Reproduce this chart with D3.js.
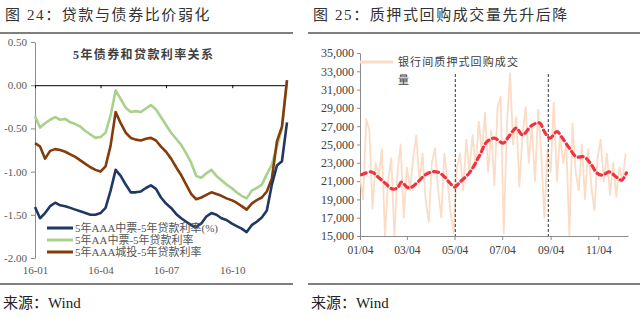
<!DOCTYPE html>
<html>
<head>
<meta charset="utf-8">
<style>
body { margin: 0; background: #fff; }
svg text { font-family: "Liberation Serif", "Noto Sans CJK SC", serif; }
.axis path, .axis line { stroke: #8c8c8c; }
.axis text { fill: #404040; font-family: "Liberation Serif", serif; }
</style>
</head>
<body>
<script src="https://d3js.org/d3.v7.min.js"></script>
<script>

// ---- left chart: 5y bond yield minus 5y loan rate (weekly) ----
var bondDates = ["2016-01-01","2016-01-08","2016-01-15","2016-01-22","2016-01-29","2016-02-05","2016-02-12",
  "2016-02-19","2016-02-26","2016-03-04","2016-03-11","2016-03-18","2016-03-25","2016-04-01","2016-04-08",
  "2016-04-15","2016-04-22","2016-04-29","2016-05-06","2016-05-13","2016-05-20","2016-05-27","2016-06-03",
  "2016-06-10","2016-06-17","2016-06-24","2016-07-01","2016-07-08","2016-07-15","2016-07-22","2016-07-29",
  "2016-08-05","2016-08-12","2016-08-19","2016-08-26","2016-09-02","2016-09-09","2016-09-16","2016-09-23",
  "2016-09-30","2016-10-07","2016-10-14","2016-10-21","2016-10-28","2016-11-04","2016-11-11","2016-11-18",
  "2016-11-25","2016-12-02","2016-12-09","2016-12-16"];
var aaaMtn = [-1.41,-1.54,-1.48,-1.40,-1.36,-1.39,-1.40,-1.42,-1.44,-1.46,-1.48,-1.50,-1.50,-1.48,-1.42,
  -1.22,-0.98,-1.05,-1.15,-1.24,-1.24,-1.23,-1.19,-1.16,-1.20,-1.30,-1.37,-1.42,-1.49,-1.54,-1.58,
  -1.62,-1.64,-1.60,-1.52,-1.48,-1.50,-1.54,-1.56,-1.60,-1.63,-1.66,-1.70,-1.62,-1.58,-1.53,-1.45,
  -1.15,-0.93,-0.88,-0.43];
var aaMtn = [-0.36,-0.49,-0.44,-0.40,-0.37,-0.40,-0.39,-0.43,-0.45,-0.48,-0.53,-0.57,-0.61,-0.60,-0.55,
  -0.35,-0.06,-0.16,-0.26,-0.31,-0.30,-0.31,-0.27,-0.23,-0.28,-0.37,-0.46,-0.55,-0.62,-0.69,-0.79,
  -0.90,-1.05,-1.07,-1.02,-0.98,-1.05,-1.10,-1.15,-1.19,-1.24,-1.28,-1.31,-1.22,-1.19,-1.15,-1.03,
  -0.92,-0.71,-0.50,0.05];
var aaaLgfv = [-0.67,-0.71,-0.85,-0.76,-0.74,-0.75,-0.77,-0.80,-0.83,-0.87,-0.91,-0.95,-0.98,-1.00,-0.94,
  -0.70,-0.31,-0.44,-0.55,-0.61,-0.63,-0.64,-0.62,-0.61,-0.64,-0.71,-0.77,-0.85,-0.95,-1.04,-1.15,
  -1.26,-1.32,-1.30,-1.27,-1.24,-1.26,-1.28,-1.31,-1.33,-1.36,-1.40,-1.44,-1.37,-1.33,-1.30,-1.23,
  -1.08,-0.65,-0.48,0.06];
var bondNames = ["5年AAA中票-5年贷款利率(%)", "5年AA中票-5年贷款利率", "5年AAA城投-5年贷款利率"];
var bondColors = ["#203864", "#a9d18e", "#843c0c"];
var bondYTicks = [0.5, 0, -0.5, -1, -1.5, -2];
var bondXTicks = ["2016-01-01", "2016-04-01", "2016-07-01", "2016-10-01"];

// ---- right chart: interbank pledged repo volume ----
var repoStart = "2016-01-04";   // one value every 4 days
var repoStepDays = 4;
var repoVolume = [21500,19000,27800,26500,18000,23000,21500,24500,15000,21000,23500,15000,22000,25000,
  17000,22500,20000,23500,26000,21000,24000,19000,16500,23000,24600,20000,17000,24000,21000,17500,
  15400,22500,24000,20000,25500,22000,26000,22500,27500,24000,28500,22000,26500,20500,29000,30200,
  15300,27000,32800,25000,28000,20400,26000,29100,23000,27000,21000,28800,24000,17000,24500,22000,
  29600,21000,26000,23000,25000,15100,27300,22000,20000,25000,19000,24500,20500,17800,23500,25500,
  21000,24000,19500,23000,19300,22500,21000,24000];
var maDates = ["2016-01-06","2016-01-19","2016-01-27","2016-02-05","2016-02-14","2016-02-21","2016-02-26",
  "2016-03-04","2016-03-08","2016-03-18","2016-03-27","2016-04-05","2016-04-12","2016-04-19","2016-04-28",
  "2016-05-04","2016-05-11","2016-05-23","2016-06-05","2016-06-14","2016-06-24","2016-07-05","2016-07-14",
  "2016-07-22","2016-07-30","2016-08-11","2016-08-21","2016-08-27","2016-09-03","2016-09-12","2016-09-19",
  "2016-09-28","2016-10-07","2016-10-17","2016-10-26","2016-11-02","2016-11-09","2016-11-18","2016-11-27",
  "2016-12-04","2016-12-10"];
var maValues = [21700,22000,21450,20800,20150,20250,20900,20350,20250,20900,21650,22000,22000,21650,20800,
  20350,20900,21900,23800,25250,25700,25150,26050,26800,26050,27100,27350,26400,25700,26400,25700,
  24600,23650,23650,22800,21900,21650,22000,21450,21100,21900];
var markDates = ["2016-05-05", "2016-09-01"];
var repoYTicks = [15000,17000,19000,21000,23000,25000,27000,29000,31000,33000,35000];
var repoXTicks = ["2016-01-04","2016-03-04","2016-05-04","2016-07-04","2016-09-04","2016-11-04"];
var repoName = "银行间质押式回购成交量";

var parse = d3.timeParse("%Y-%m-%d");

var svg = d3.select("body").append("svg")
    .attr("width", 640)
    .attr("height", 318);

// headings, rules, source notes
function frame(x0, x1, title) {
  svg.append("text").attr("x", x0 + 5).attr("y", 20)
      .style("font-size", "15px").style("letter-spacing", "1.6px").style("fill", "#333")
      .text(title);
  [33, 284].forEach(function(yy) {
    svg.append("line").attr("x1", x0).attr("x2", x1).attr("y1", yy).attr("y2", yy)
        .style("stroke", "#555").style("stroke-width", 1.3);
  });
  svg.append("text").attr("x", x0 + 3).attr("y", 308)
      .style("font-size", "15px").style("fill", "#222")
      .text("来源：Wind");
}
frame(0, 293, "图 24：贷款与债券比价弱化");
frame(308, 640, "图 25：质押式回购成交量先升后降");
svg.select("text:nth-of-type(3)");

// ================= left chart =================
var xL = d3.scaleTime().domain([parse("2016-01-01"), parse("2016-12-16")]).range([35, 287]);
var yL = d3.scaleLinear().domain([-2, 0.5]).range([258, 42]);

var gyL = svg.append("g").attr("class", "axis")
    .attr("transform", "translate(35,0)")
    .call(d3.axisLeft(yL).tickValues(bondYTicks).tickSize(4).tickSizeOuter(0).tickPadding(4)
      .tickFormat(function(d) { return d.toFixed(2); }));
gyL.selectAll("text").style("font-size", "11px").style("fill", "#595959");

// zero line with month ticks
svg.append("g").attr("class", "axis zero")
    .attr("transform", "translate(0," + yL(0) + ")")
    .call(d3.axisBottom(xL).tickValues(bondXTicks.map(parse)).tickSize(3).tickSizeOuter(0).tickFormat(""))
    .selectAll("path, line").style("stroke", "#000");

// month labels under the plot
var gxL = svg.append("g").attr("class", "axis")
    .attr("transform", "translate(0,258)")
    .call(d3.axisBottom(xL).tickValues(bondXTicks.map(parse)).tickSize(0).tickPadding(8)
      .tickFormat(d3.timeFormat("%y-%m")));
gxL.select(".domain").remove();
gxL.selectAll("text").style("font-size", "11px").style("fill", "#595959");

svg.append("text").attr("x", 73).attr("y", 59)
    .style("font-size", "12px").style("font-weight", "bold").style("letter-spacing", "1.4px")
    .style("fill", "#404040")
    .text("5年债券和贷款利率关系");

var bondLine = d3.line()
    .x(function(d, i) { return xL(parse(bondDates[i])); })
    .y(function(d) { return yL(d); });

// draw green first, then brown, then blue on top
[1, 2, 0].forEach(function(k) {
  var vals = [aaaMtn, aaMtn, aaaLgfv][k];
  svg.append("path")
      .datum(vals)
      .attr("d", bondLine)
      .style("fill", "none")
      .style("stroke", bondColors[k])
      .style("stroke-width", 2.6)
      .style("stroke-linejoin", "round");
});

var legL = svg.append("g");
bondNames.forEach(function(name, i) {
  var yy = 228 + i * 12;
  legL.append("line").attr("x1", 47).attr("x2", 73).attr("y1", yy).attr("y2", yy)
      .style("stroke", bondColors[i]).style("stroke-width", 3);
  legL.append("text").attr("x", 75).attr("y", yy + 4)
      .style("font-size", "11px").style("fill", "#555")
      .text(name);
});

// ================= right chart =================
var xR = d3.scaleTime().domain([parse("2016-01-04"), parse("2016-12-12")]).range([360, 628]);
var yR = d3.scaleLinear().domain([15000, 35000]).range([236, 53]);

svg.append("clipPath").attr("id", "clipR")
  .append("rect").attr("x", 360).attr("y", 40).attr("width", 270).attr("height", 196);

var gyR = svg.append("g").attr("class", "axis")
    .attr("transform", "translate(360,0)")
    .call(d3.axisLeft(yR).tickValues(repoYTicks).tickSize(3).tickSizeOuter(0).tickPadding(3)
      .tickFormat(d3.format(",")));
gyR.selectAll("text").style("font-size", "12px");

var gxR = svg.append("g").attr("class", "axis")
    .attr("transform", "translate(0,236)")
    .call(d3.axisBottom(xR).tickValues(repoXTicks.map(parse)).tickSize(4).tickSizeOuter(0).tickPadding(6)
      .tickFormat(d3.timeFormat("%m/%d")));
gxR.selectAll("text").style("font-size", "11.5px");

var start = parse(repoStart);
var volLine = d3.line()
    .x(function(d, i) { return xR(d3.timeDay.offset(start, i * repoStepDays)); })
    .y(function(d) { return yR(d); });

svg.append("path")
    .datum(repoVolume)
    .attr("clip-path", "url(#clipR)")
    .attr("d", volLine)
    .style("fill", "none")
    .style("stroke", "#fbdcc6")
    .style("stroke-width", 1.8)
    .style("stroke-linejoin", "round");

markDates.forEach(function(d) {
  svg.append("line")
      .attr("x1", xR(parse(d))).attr("x2", xR(parse(d)))
      .attr("y1", yR(32700)).attr("y2", yR(15000))
      .style("stroke", "#333").style("stroke-width", 1)
      .style("stroke-dasharray", "3,2");
});

var maLine = d3.line()
    .x(function(d, i) { return xR(parse(maDates[i])); })
    .y(function(d) { return yR(d); })
    .curve(d3.curveCatmullRom);

svg.append("path")
    .datum(maValues)
    .attr("d", maLine)
    .style("fill", "none")
    .style("stroke", "#ef3340")
    .style("stroke-width", 3.2)
    .style("stroke-dasharray", "5,4")
    .style("stroke-linecap", "round");

// legend
svg.append("line").attr("x1", 360).attr("x2", 393).attr("y1", 62).attr("y2", 62)
    .style("stroke", "#fbdcc6").style("stroke-width", 3);
var legR = svg.append("text").attr("x", 398).attr("y", 66)
    .style("font-size", "11px").style("letter-spacing", "1.1px").style("fill", "#404040");
legR.append("tspan").text(repoName.slice(0, 10));
legR.append("tspan").attr("x", 398).attr("dy", 18).text(repoName.slice(10));

</script>
</body>
</html>
